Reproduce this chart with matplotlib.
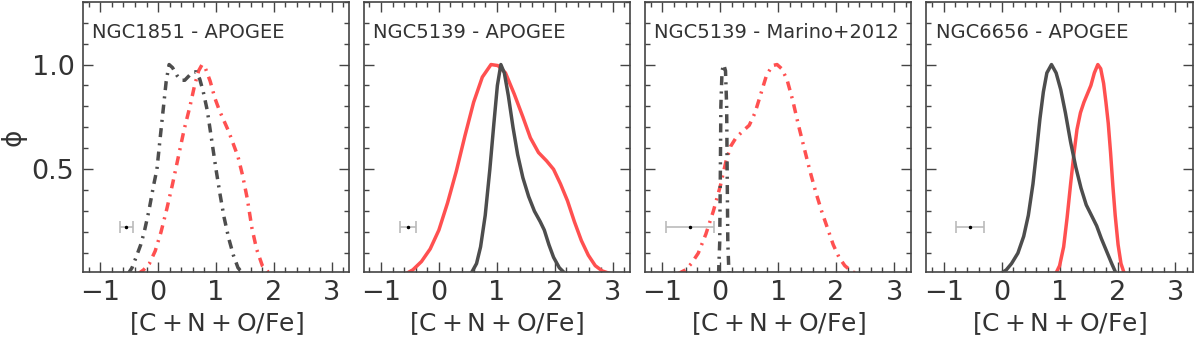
import matplotlib
matplotlib.use("Agg")
import matplotlib.pyplot as plt
from matplotlib.ticker import MultipleLocator

plt.rcParams['font.family'] = ['DejaVu Sans']
plt.rcParams['mathtext.fontset'] = 'dejavusans'

titles = ["NGC1851 - APOGEE", "NGC5139 - APOGEE", "NGC5139 - Marino+2012", "NGC6656 - APOGEE"]

# gray curves (first population)
gray_x = [
    [-0.52, -0.45, -0.38, -0.30, -0.24, -0.16, -0.08, -0.02, 0.04, 0.09, 0.14, 0.19, 0.25, 0.32, 0.40,
     0.46, 0.53, 0.60, 0.66, 0.72, 0.78, 0.85, 0.92, 1.00, 1.07, 1.14, 1.22, 1.30, 1.38, 1.47],
    [0.55, 0.65, 0.72, 0.80, 0.88, 0.95, 1.01, 1.07, 1.13, 1.20, 1.28, 1.36, 1.45, 1.55, 1.65, 1.75,
     1.82, 1.90, 1.98, 2.08, 2.19],
    [-0.03, -0.01, 0.0, 0.01, 0.03, 0.06, 0.09, 0.11, 0.12, 0.13, 0.15],
    [-0.03, 0.08, 0.17, 0.28, 0.38, 0.46, 0.54, 0.60, 0.66, 0.72, 0.78, 0.86, 0.94, 1.02, 1.10, 1.19,
     1.28, 1.37, 1.46, 1.55, 1.64, 1.72, 1.81, 1.90, 1.98],
]
gray_y = [
    [0.0, 0.03, 0.08, 0.14, 0.20, 0.30, 0.42, 0.50, 0.66, 0.79, 0.92, 1.0, 0.985, 0.95, 0.925,
     0.925, 0.945, 0.965, 0.965, 0.93, 0.87, 0.78, 0.65, 0.50, 0.38, 0.27, 0.17, 0.09, 0.03, 0.0],
    [0.0, 0.05, 0.13, 0.28, 0.50, 0.72, 0.90, 1.0, 0.96, 0.85, 0.70, 0.57, 0.46, 0.37, 0.30, 0.25,
     0.21, 0.14, 0.08, 0.03, 0.0],
    [0.0, 0.15, 0.45, 0.80, 0.97, 1.0, 0.97, 0.80, 0.45, 0.15, 0.0],
    [0.0, 0.02, 0.05, 0.10, 0.18, 0.28, 0.43, 0.58, 0.74, 0.87, 0.96, 1.0, 0.96, 0.88, 0.77, 0.63,
     0.51, 0.41, 0.33, 0.28, 0.23, 0.17, 0.11, 0.05, 0.0],
]
# red curves (second population)
red_x = [
    [-0.35, -0.25, -0.15, -0.05, 0.05, 0.15, 0.25, 0.35, 0.45, 0.55, 0.63, 0.70, 0.76, 0.82, 0.90,
     0.98, 1.06, 1.14, 1.22, 1.30, 1.38, 1.46, 1.54, 1.62, 1.70, 1.80, 1.90, 1.98],
    [-0.58, -0.45, -0.30, -0.15, 0.0, 0.15, 0.30, 0.45, 0.60, 0.75, 0.90, 1.02, 1.15, 1.30, 1.45,
     1.58, 1.72, 1.86, 1.98, 2.10, 2.22, 2.34, 2.46, 2.58, 2.70, 2.82, 2.98],
    [-0.74, -0.60, -0.50, -0.38, -0.25, -0.12, 0.0, 0.10, 0.18, 0.27, 0.38, 0.50, 0.60, 0.70, 0.80,
     0.90, 0.98, 1.06, 1.15, 1.25, 1.35, 1.45, 1.55, 1.65, 1.75, 1.85, 1.95, 2.05, 2.15, 2.28, 2.42],
    [0.93, 1.00, 1.07, 1.13, 1.19, 1.25, 1.30, 1.36, 1.42, 1.48, 1.54, 1.60, 1.66, 1.71, 1.76, 1.80,
     1.84, 1.88, 1.92, 1.96, 2.01, 2.06, 2.12],
]
red_y = [
    [0.0, 0.02, 0.05, 0.11, 0.20, 0.31, 0.43, 0.56, 0.69, 0.80, 0.90, 0.97, 1.0, 0.98, 0.92,
     0.84, 0.78, 0.73, 0.68, 0.62, 0.56, 0.47, 0.36, 0.22, 0.12, 0.04, 0.01, 0.0],
    [0.0, 0.02, 0.06, 0.12, 0.21, 0.34, 0.49, 0.66, 0.82, 0.94, 1.0, 0.995, 0.96, 0.86, 0.75,
     0.65, 0.58, 0.54, 0.50, 0.43, 0.35, 0.25, 0.16, 0.09, 0.04, 0.015, 0.0],
    [0.0, 0.02, 0.05, 0.10, 0.19, 0.30, 0.42, 0.54, 0.61, 0.65, 0.68, 0.71, 0.77, 0.86, 0.95,
     0.995, 1.0, 0.98, 0.93, 0.83, 0.71, 0.60, 0.49, 0.39, 0.30, 0.22, 0.14, 0.08, 0.04, 0.01, 0.0],
    [0.0, 0.04, 0.13, 0.27, 0.43, 0.58, 0.69, 0.77, 0.82, 0.86, 0.90, 0.96, 1.0, 0.98, 0.91, 0.82,
     0.72, 0.58, 0.42, 0.28, 0.14, 0.05, 0.0],
]
dashed = [True, False, True, False]

err_x = [-0.55, -0.54, -0.52, -0.55]
err_y = [0.224, 0.224, 0.224, 0.224]
err_xerr = [0.11, 0.14, 0.41, 0.24]

fig = plt.figure(figsize=(12, 3.37), dpi=100)
lefts = [0.069, 0.303, 0.5375, 0.772]
gray_c = '#4d4d4d'
red_c = '#ff5050'
dd = (0, (2.6, 1.8, 0.6, 1.8))

for i in range(4):
    ax = fig.add_axes([lefts[i], 0.193, 0.222, 0.802])
    ls = dd if dashed[i] else '-'
    ax.plot(gray_x[i], gray_y[i], color=gray_c, lw=2.5, ls=ls, zorder=3)
    ax.plot(red_x[i], red_y[i], color=red_c, lw=2.5, ls=ls, zorder=2)
    ax.errorbar(err_x[i], err_y[i], xerr=err_xerr[i], fmt='o', ms=1.5, color='k',
                ecolor='#bbbbbb', elinewidth=1.2, capsize=4, capthick=1.2)
    ax.set_xlim(-1.3, 3.3)
    ax.set_ylim(0.01, 1.3)
    ax.xaxis.set_major_locator(MultipleLocator(1))
    ax.xaxis.set_minor_locator(MultipleLocator(0.2))
    ax.yaxis.set_major_locator(MultipleLocator(0.5))
    ax.yaxis.set_minor_locator(MultipleLocator(0.1))
    ax.tick_params(which='both', direction='in', top=True, right=True, color='#444444')
    ax.tick_params(which='major', length=7, width=1, labelsize=19.5, pad=6, labelcolor='#333333')
    ax.tick_params(which='minor', length=3.5, width=1)
    ax.set_yticks([0.5, 1.0])
    ax.set_yticklabels(['0.5', '1.0'])
    if i > 0:
        ax.tick_params(labelleft=False)
    for s in ax.spines.values():
        s.set_color('#444444')
        s.set_linewidth(1.2)
    ax.set_xlabel(r'$[{\rm C+N+O/Fe}]$', fontsize=18, color='#333333', labelpad=3)
    ax.text(0.035, 0.885, titles[i], transform=ax.transAxes, fontsize=14,
            color='#333333', va='center', ha='left')
    if i == 0:
        ax.set_ylabel('ϕ', fontsize=19, color='#333333', labelpad=4)

fig.savefig('out.png', dpi=100)
